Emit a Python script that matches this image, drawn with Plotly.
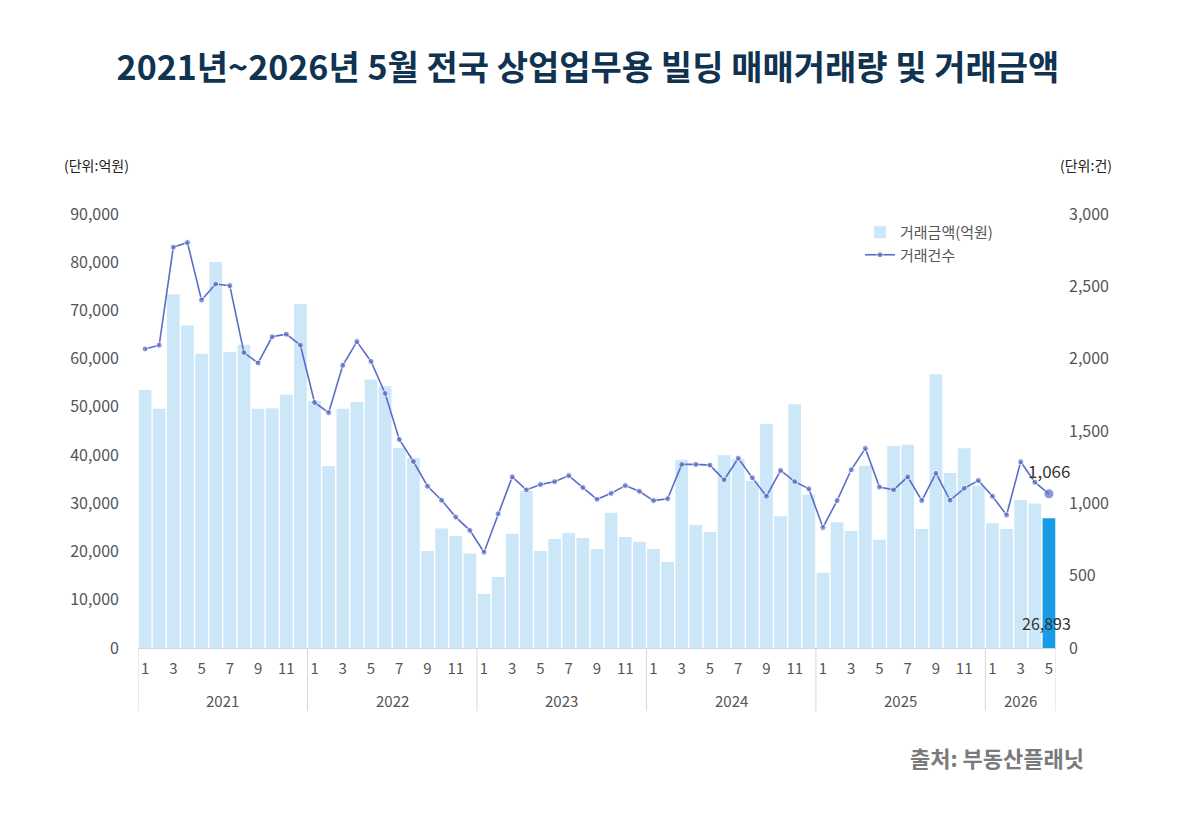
import plotly.graph_objects as go

# 2021.01 ~ 2026.05 월별 데이터
years = ['2021', '2022', '2023', '2024', '2025', '2026']
months_in_year = [12, 12, 12, 12, 12, 5]

# 거래금액(억원)
amount = [
    53500, 49600, 73350, 66900, 61000, 80050, 61400, 62900, 49600, 49700, 52500, 71350,
    51200, 37750, 49600, 51000, 55700, 54300, 41500, 39400, 20100, 24800, 23200, 19600,
    11200, 14700, 23700, 32550, 20100, 22600, 23850, 22800, 20550, 28050, 23000, 22050,
    20550, 17850, 39050, 25500, 24050, 39950, 39250, 34650, 46450, 27300, 50550, 31800,
    15600, 26100, 24250, 37800, 22450, 41900, 42150, 24700, 56750, 36300, 41400, 33650,
    25850, 24700, 30700, 29950, 26893,
]

# 거래건수
count = [
    2067, 2093, 2771, 2803, 2405, 2516, 2505, 2042, 1970, 2151, 2169, 2093,
    1697, 1627, 1954, 2118, 1981, 1759, 1442, 1289, 1118, 1021, 905, 813,
    662, 928, 1183, 1093, 1130, 1150, 1192, 1109, 1028, 1069, 1123, 1083,
    1019, 1032, 1269, 1269, 1264, 1162, 1312, 1176, 1049, 1227, 1150, 1100,
    833, 1019, 1232, 1380, 1113, 1093, 1183, 1019, 1208, 1021, 1104, 1158,
    1049, 919, 1287, 1146, 1066,
]

months = [m for k in months_in_year for m in range(1, k + 1)]
x = [f'{y}년 {m}월' for y, k in zip(years, months_in_year) for m in range(1, k + 1)]
n = len(amount)

# 홀수 월만 눈금 표시
tick_vals = [xv for xv, m in zip(x, months) if m % 2 == 1]
tick_text = [str(m) for m in months if m % 2 == 1]

bar_colors = ['#cce7f8'] * (n - 1) + ['#1a9be6']
marker_sizes = [6] * (n - 1) + [10]

font_family = 'Noto Sans CJK KR, Noto Sans, sans-serif'

# 페이지 여백(8px) 보정한 플롯 영역 픽셀 좌표
OFF = 8
PL, PR, PT, PB = 138 - OFF, 1056 - OFF, 214 - OFF, 648 - OFF
W, H = 1200, 829
pw, ph = PR - PL, PB - PT


def px(xp):
    return (xp - OFF - PL) / pw


def py(yp):
    return (PB - (yp - OFF)) / ph


fig = go.Figure()

fig.add_trace(go.Bar(
    x=x, y=amount, name='거래금액(억원)',
    marker=dict(color=bar_colors, line=dict(width=0)),
    hovertemplate='%{x}<br>%{y:,}억원<extra></extra>',
))

fig.add_trace(go.Scatter(
    x=x, y=count, name='거래건수', yaxis='y2',
    mode='lines+markers',
    line=dict(color='#5a6dc8', width=1.6),
    marker=dict(color='#5a6dc8', size=marker_sizes),
    hovertemplate='%{x}<br>%{y:,}건<extra></extra>',
))

# 마지막 값 라벨
fig.add_annotation(x=n - 1, y=count[-1], xref='x', yref='y2',
                   text=f'{count[-1]:,}', showarrow=False, yshift=23,
                   font=dict(size=17, color='#333333', family=font_family))
fig.add_annotation(x=n - 1, y=0, xref='x', yref='y',
                   text=f'{amount[-1]:,}', showarrow=False, yshift=25, xshift=-2,
                   font=dict(size=16, color='#333333', family=font_family))

# 연도 구분선 및 연도 라벨
start = 0
edges = [-0.5]
for y, k in zip(years, months_in_year):
    fig.add_annotation(x=start + (k - 1) / 2, y=py(700), xref='x', yref='paper', text=y,
                       showarrow=False, yanchor='middle',
                       font=dict(size=15, color='#555555', family=font_family))
    start += k
    edges.append(start - 0.5)
for e in edges:
    fig.add_shape(type='line', x0=e, x1=e, xref='x', y0=0, y1=py(711), yref='paper',
                  line=dict(color='#d6d6d6', width=1))

# 단위 표시 및 출처
fig.add_annotation(x=px(62), y=py(165), xref='paper', yref='paper', text='(단위:억원)',
                   showarrow=False, xanchor='left', yanchor='middle',
                   font=dict(size=14, color='#222222', family=font_family))
fig.add_annotation(x=px(1114), y=py(165), xref='paper', yref='paper', text='(단위:건)',
                   showarrow=False, xanchor='right', yanchor='middle',
                   font=dict(size=14, color='#222222', family=font_family))
fig.add_annotation(x=px(1086), y=py(757), xref='paper', yref='paper', text='<b>출처: 부동산플래닛</b>',
                   showarrow=False, xanchor='right', yanchor='middle',
                   font=dict(size=22, color='#7a7a7a', family=font_family))

fig.update_layout(
    width=W, height=H,
    margin=dict(l=PL, r=W - PR, t=PT, b=H - PB, autoexpand=False),
    paper_bgcolor='white', plot_bgcolor='white',
    font=dict(family=font_family, color='#555555', size=15),
    title=dict(text='<b>2021년~2026년 5월 전국 상업업무용 빌딩 매매거래량 및 거래금액</b>',
               x=(588 - OFF) / W, xanchor='center', y=1 - (68 - OFF) / H, yanchor='middle',
               font=dict(size=34, color='#0f3350', family=font_family)),
    bargap=0.1,
    showlegend=True,
    legend=dict(x=px(860), y=py(216), xanchor='left', yanchor='top',
                bgcolor='rgba(0,0,0,0)', font=dict(size=15, color='#555555'),
                tracegroupgap=0, itemwidth=30),
    xaxis=dict(type='category', range=[-0.5, n - 0.5], autorange=False,
               showline=True, linecolor='#d6d6d6', linewidth=1,
               tickvals=tick_vals, ticktext=tick_text, tickangle=0, ticklabelstandoff=7,
               tickfont=dict(size=15, color='#555555'), showgrid=False, ticks=''),
    yaxis=dict(range=[0, 90000], tickvals=list(range(0, 90001, 10000)), tickformat=',',
               showgrid=False, zeroline=False, ticks='', ticklabelstandoff=18,
               tickfont=dict(size=16, color='#555555')),
    yaxis2=dict(range=[0, 3000], tickvals=list(range(0, 3001, 500)), tickformat=',',
                overlaying='y', side='right', showgrid=False, zeroline=False, ticks='',
                ticklabelstandoff=12, tickfont=dict(size=16, color='#555555')),
)

fig.write_html('out.html')
